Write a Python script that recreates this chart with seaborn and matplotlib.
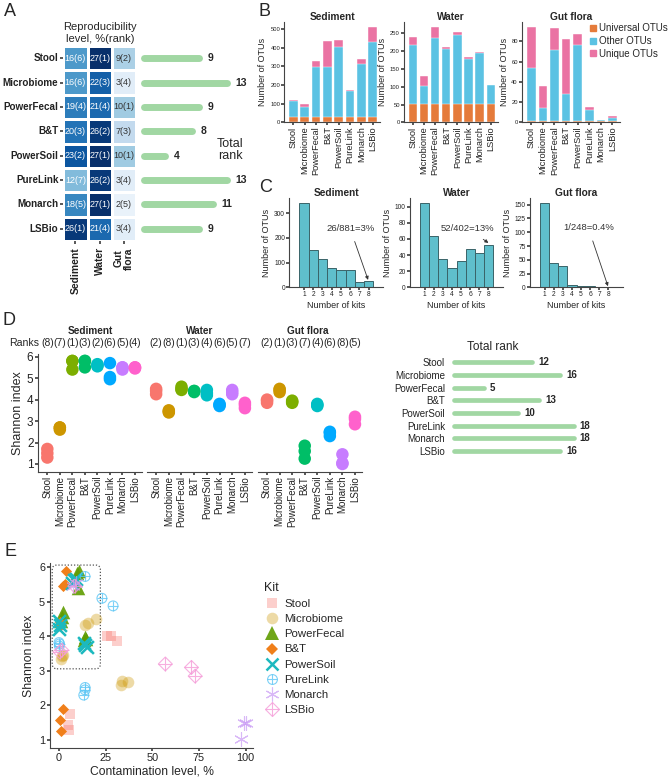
import numpy as np
import pandas as pd
import matplotlib
matplotlib.use("Agg")
import matplotlib.pyplot as plt
import matplotlib.transforms as mtransforms
from matplotlib.lines import Line2D
from matplotlib.patches import FancyBboxPatch
from matplotlib.legend_handler import HandlerTuple
import seaborn as sns

W, H = 669, 781

kits = ["Stool", "Microbiome", "PowerFecal", "B&T", "PowerSoil", "PureLink", "Monarch", "LSBio"]

# --- A: reproducibility level (%) and rank ---
repro_sediment = [16, 16, 19, 20, 23, 12, 18, 26]
repro_water = [27, 22, 21, 26, 27, 26, 27, 21]
repro_gut = [9, 3, 10, 7, 10, 3, 2, 3]
rank_sediment = [6, 6, 4, 3, 2, 7, 5, 1]
rank_water = [1, 3, 4, 2, 1, 2, 1, 4]
rank_gut = [2, 4, 1, 3, 1, 4, 5, 4]
total_rank_a = [9, 13, 9, 8, 4, 13, 11, 9]

# --- B: OTU counts per kit ---
universal_sediment = [26, 26, 26, 26, 26, 26, 26, 26]
other_sediment = [87, 56, 272, 270, 377, 140, 290, 406]
unique_sediment = [5, 14, 32, 139, 40, 9, 24, 80]
universal_water = [52, 52, 52, 52, 52, 52, 52, 52]
other_water = [165, 50, 186, 154, 194, 126, 144, 52]
unique_water = [23, 29, 30, 6, 9, 5, 3, 0]
universal_gut = [1, 1, 1, 1, 1, 1, 1, 1]
other_gut = [53, 13, 70, 27, 75, 11, 1, 3]
unique_gut = [40, 22, 22, 54, 11, 3, 0, 2]

# --- C: number of OTUs shared by n kits ---
n_kits = [1, 2, 3, 4, 5, 6, 7, 8]
hist_sediment = [343, 152, 116, 80, 72, 70, 22, 26]
hist_water = [105, 64, 35, 24, 32, 48, 42, 52]
hist_gut = [154, 45, 38, 5, 2, 2, 1, 1]

# --- D: Shannon index (3 replicates per kit) ---
shannon_sediment = [[1.3, 1.5, 1.7], [2.6, 2.7, 2.7], [5.4, 5.8, 5.8], [5.5, 5.8, 5.8],
                    [5.55, 5.6, 5.65], [4.95, 5.05, 5.7], [5.4, 5.5, 5.5], [5.45, 5.5, 5.5]]
shannon_water = [[4.25, 4.5, 4.4], [3.4, 3.45, 3.5], [4.45, 4.6, 4.5], [4.35, 4.4, 4.4],
                 [4.2, 4.45, 4.3], [3.7, 3.75, 3.8], [4.25, 4.45, 4.35], [3.6, 3.75, 3.85]]
shannon_gut = [[3.85, 3.95, 4.0], [4.35, 4.45, 4.5], [3.85, 3.9, 3.95], [1.25, 1.6, 1.85],
               [3.7, 3.75, 3.8], [2.3, 2.45, 2.5], [1.0, 1.05, 1.45], [2.85, 3.1, 3.2]]
ranks_sediment = [8, 7, 1, 3, 2, 6, 5, 4]
ranks_water = [2, 8, 1, 3, 4, 6, 5, 7]
ranks_gut = [2, 1, 3, 7, 4, 6, 8, 5]
total_rank_d = [12, 16, 5, 13, 10, 18, 18, 16]

# --- E: contamination level vs Shannon index ---
contam_stool = [26, 28, 31, 6, 5, 5.5]
shan_stool = [4.0, 4.0, 3.87, 1.75, 1.43, 1.3]
contam_microbiome = [14, 15.5, 20, 33, 34, 37, 1, 2, 1.5]
shan_microbiome = [4.32, 4.38, 4.5, 2.58, 2.72, 2.68, 3.35, 3.47, 3.42]
contam_powerfecal = [11, 9.5, 10.4, 2.3, 1.5, 1, 14, 13.5, 14.5]
shan_powerfecal = [5.9, 5.82, 5.4, 4.7, 4.55, 4.45, 3.97, 3.88, 3.92]
contam_bt = [4, 2.2, 3, 0.9, 0.4, 2.2, 0.5, 0.3, 0.8]
shan_bt = [5.88, 5.46, 5.5, 1.27, 1.58, 1.9, 4.35, 4.4, 4.3]
contam_powersoil = [7, 8, 9, 0, 0.3, 0.2, 13.5, 14, 15]
shan_powersoil = [5.55, 5.62, 5.65, 4.45, 4.32, 4.22, 3.82, 3.75, 3.7]
contam_purelink = [14, 23, 29, 0, 0.3, 0.2, 14, 14, 13.3]
shan_purelink = [5.73, 5.1, 4.88, 3.82, 3.78, 3.72, 2.52, 2.45, 2.3]
contam_monarch = [99, 100, 97.5, 7.5, 9]
shan_monarch = [1.48, 1.5, 1.02, 5.45, 5.55]
contam_lsbio = [57, 71, 73, 0.5, 1.5, 8.5]
shan_lsbio = [3.2, 3.1, 2.85, 3.55, 3.6, 5.45]

sns.set_theme(style="ticks")
plt.rcParams['font.family'] = ['Liberation Sans', 'DejaVu Sans']
plt.rcParams.update({'axes.edgecolor': '#444444', 'xtick.color': '#444444', 'ytick.color': '#444444',
                     'axes.linewidth': 0.8, 'xtick.major.size': 2.5, 'ytick.major.size': 2.5,
                     'xtick.labelcolor': '#222222', 'ytick.labelcolor': '#222222'})

fig = plt.figure(figsize=(W / 100, H / 100), dpi=100)


def add_ax(x0, y0, x1, y1):
    return fig.add_axes([x0 / W, 1 - y1 / H, (x1 - x0) / W, (y1 - y0) / H])


def ftext(x, y, s, **kw):
    fig.text(x / W, 1 - y / H, s, **kw)


GREEN = "#a1d7a3"

# ---------------- Panel A ----------------
ftext(4, 12, "A", fontsize=13, va="center")
ftext(100, 33, "Reproducibility\nlevel, %(rank)", fontsize=8, ha="center", va="center", linespacing=1.15)

ax_hm = add_ax(63.3, 46.1, 136, 240.9)
hm_df = pd.DataFrame({"Sediment": repro_sediment, "Water": repro_water, "Gut\nflora": repro_gut}, index=kits)
rank_df = pd.DataFrame({"Sediment": rank_sediment, "Water": rank_water, "Gut\nflora": rank_gut}, index=kits)
annot = hm_df.astype(str) + "(" + rank_df.astype(str) + ")"
sns.heatmap(hm_df, annot=annot, fmt="", cmap="Blues", vmin=0, vmax=27, cbar=False,
            linewidths=1, linecolor="white", ax=ax_hm, annot_kws={"fontsize": 6.5})
for t, v in zip(ax_hm.texts, hm_df.values.flatten()):
    t.set_color("white" if v >= 12 else "#333333")
ax_hm.tick_params(axis="y", length=2.5, pad=1, labelsize=7.1, left=True)
ax_hm.tick_params(axis="x", length=2.5, pad=2, labelsize=7.4, bottom=True)
ax_hm.set_yticklabels(kits, rotation=0, fontweight="bold")
ax_hm.set_xticklabels(["Sediment", "Water", "Gut\nflora"], rotation=90, fontweight="bold",
                      va="top", linespacing=1.0)

ax_ta = add_ax(140.9, 46.1, 245, 240.9)
sc_a = 6.86
r_a = 3.4 / sc_a
ya = np.arange(len(kits)) + 0.5
ax_ta.hlines(ya, r_a, np.array(total_rank_a) - r_a, color=GREEN, lw=5, capstyle="round")
for y, v in zip(ya, total_rank_a):
    ax_ta.text(v + 0.75, y, str(v), fontsize=7.5, fontweight="bold", va="center", ha="left")
ax_ta.set_xlim(0, (245 - 140.9) / sc_a)
ax_ta.set_ylim(8, 0)
ax_ta.axis("off")
ftext(230, 150, "Total\nrank", fontsize=9, ha="center", va="center", linespacing=1.1)

# ---------------- Panel B ----------------
ftext(259, 12, "B", fontsize=13, va="center")
C_UNI, C_OTH, C_UNQ = "#e57b3b", "#5bc2e3", "#ea73a3"
b_sets = [("Sediment", universal_sediment, other_sediment, unique_sediment, (284.3, 380), [0, 100, 200, 300, 400, 500]),
          ("Water", universal_water, other_water, unique_water, (404, 498), [0, 50, 100, 150, 200, 250]),
          ("Gut flora", universal_gut, other_gut, unique_gut, (522, 620), [0, 20, 40, 60, 80])]
for title, uni, oth, unq, (x0, x1), yt in b_sets:
    ax = add_ax(x0, 22.3, x1, 122.3)
    df = pd.DataFrame({"kit": kits, "universal": uni, "other": oth, "unique": unq})
    df["mid"] = df["universal"] + df["other"]
    df["top"] = df["mid"] + df["unique"]
    for col, c in (("top", C_UNQ), ("mid", C_OTH), ("universal", C_UNI)):
        sns.barplot(data=df, x="kit", y=col, color=c, saturation=1, width=0.75, ax=ax,
                    edgecolor="white", linewidth=0.3)
    ax.set_xlim(-0.8, 7.65)
    ax.set_yticks(yt)
    ax.tick_params(axis="y", labelsize=4.2, length=2, pad=1)
    ax.tick_params(axis="x", labelsize=6.7, rotation=90, length=2, pad=1)
    ax.set_xlabel("")
    ax.set_ylabel("Number of OTUs", fontsize=6.5, labelpad=2)
    ax.set_title(title, fontsize=7.3, fontweight="bold", pad=1)
    sns.despine(ax=ax)

b_handles = [Line2D([], [], marker="s", ls="", color=c, markersize=5) for c in (C_UNI, C_OTH, C_UNQ)]
fig.legend(b_handles, ["Universal OTUs", "Other OTUs", "Unique OTUs"], loc="upper left",
           bbox_to_anchor=(588 / W, 1 - 23 / H), frameon=False, fontsize=7, handletextpad=0.1,
           labelspacing=0.3, borderaxespad=0, handlelength=1.0, borderpad=0)

# ---------------- Panel C ----------------
ftext(259, 187, "C", fontsize=13, va="center")
c_sets = [("Sediment", hist_sediment, (289.3, 383.3), [0, 100, 200, 300], "26/881=3%", (6.0, 238), (7.95, 30)),
          ("Water", hist_water, (410, 503), [0, 20, 40, 60, 80, 100], "52/402=13%", (5.7, 73), (8.0, 55)),
          ("Gut flora", hist_gut, (530, 623), [0, 25, 50, 75, 100, 125, 150], "1/248=0.4%", (5.8, 108), (7.95, 2))]
for title, counts, (x0, x1), yt, note, txy, axy in c_sets:
    ax = add_ax(x0, 198.3, x1, 287.3)
    sns.histplot(x=n_kits, weights=counts, discrete=True, color="#5fbfcc", edgecolor="#3a6469",
                 linewidth=0.7, alpha=1, ax=ax)
    ax.set_xlim(-0.6, 9.6)
    ax.set_xticks(n_kits)
    ax.set_yticks(yt)
    ax.tick_params(axis="x", labelsize=4.8, length=2, pad=1)
    ax.tick_params(axis="y", labelsize=4.8, length=2, pad=1)
    ax.set_xlabel("Number of kits", fontsize=6.5, labelpad=2)
    ax.set_ylabel("Number of OTUs", fontsize=6.5, labelpad=2)
    ax.set_title(title, fontsize=7.3, fontweight="bold", pad=1)
    ax.annotate(note, xy=axy, xytext=txy, fontsize=6.8, ha="center", va="center", color="#333333",
                arrowprops=dict(arrowstyle="-|>", lw=0.6, color="#333333", mutation_scale=5,
                                shrinkA=4, shrinkB=0))
    sns.despine(ax=ax)

# ---------------- Panel D ----------------
ftext(3, 320, "D", fontsize=13, va="center")
D_COLORS = ["#F8766D", "#CD9600", "#7CAE00", "#00BE67", "#00BFC4", "#00A9FF", "#C77CFF", "#FF61CC"]
d_sets = [("Sediment", shannon_sediment, ranks_sediment, (38.3, 142)),
          ("Water", shannon_water, ranks_water, (147, 252)),
          ("Gut flora", shannon_gut, ranks_gut, (258, 362))]
d_title_x = [90, 200, 308]
ftext(9, 343, "Ranks", fontsize=7.6, ha="left", va="center")
for i, (title, shan, ranks, (x0, x1)) in enumerate(d_sets):
    ax = add_ax(x0, 354.3, x1, 471.7)
    rows = [(k, v) for k, reps in zip(kits, shan) for v in reps]
    df = pd.DataFrame(rows, columns=["kit", "shannon"])
    sns.stripplot(data=df, x="kit", y="shannon", hue="kit", palette=D_COLORS, order=kits,
                  jitter=False, size=9, linewidth=0, ax=ax, legend=False)
    ax.set_xlim(-0.72, 7.56)
    ax.set_ylim(0.64, 6.11)
    ax.tick_params(axis="x", labelsize=7, rotation=90, length=2, pad=1)
    ax.set_xlabel("")
    trans = mtransforms.blended_transform_factory(ax.transData, ax.transAxes)
    for j, r in enumerate(ranks):
        ax.text(j, 1 + (354.3 - 343) / 117.4, f"({r})", transform=trans, fontsize=7.4,
                ha="center", va="center")
    ftext(d_title_x[i], 331, title, fontsize=7.2, fontweight="bold", ha="center", va="center")
    if i == 0:
        ax.set_yticks([1, 2, 3, 4, 5, 6])
        ax.tick_params(axis="y", labelsize=8.5, length=2.5, pad=1)
        ax.set_ylabel("Shannon index", fontsize=9, labelpad=2)
        sns.despine(ax=ax)
    else:
        ax.set_yticks([])
        ax.set_ylabel("")
        sns.despine(ax=ax, left=True)

ftext(493, 347, "Total rank", fontsize=8.6, ha="center", va="center")
sc_d = 6.92
r_d = 2.3 / sc_d
x0_d = 451.4
ax_td = add_ax(x0_d, 356, 640, 457.3)
yd = np.arange(len(kits))
ax_td.hlines(yd, r_d, np.array(total_rank_d) - r_d, color=GREEN, lw=3.4, capstyle="round")
for y, v in zip(yd, total_rank_d):
    ax_td.text(v + 0.55, y, str(v), fontsize=7, fontweight="bold", va="center", ha="left")
ax_td.set_xlim(0, (640 - x0_d) / sc_d)
ax_td.set_ylim(7.5, -0.5)
ax_td.set_yticks(yd)
ax_td.set_yticklabels(kits, fontsize=7)
ax_td.tick_params(axis="y", length=0, pad=4.5)
ax_td.set_xticks([])
sns.despine(ax=ax_td, left=True, bottom=True)

# ---------------- Panel E ----------------
ftext(4, 552, "E", fontsize=13, va="center")
ax_e = add_ax(50, 563, 253, 748)
box = FancyBboxPatch((-3.6, 3.06), 25.8, 3.0, boxstyle="round,pad=0,rounding_size=2.5",
                     mutation_aspect=1.86 / 34.6, fill=False, ls=(0, (1, 1.5)), lw=0.9, ec="#555555")
ax_e.add_patch(box)

e_layers = [
    ("Stool", contam_stool, shan_stool, [("s", "#F8766D", "#F8766D", 55, 0.35, 0)]),
    ("Microbiome", contam_microbiome, shan_microbiome, [("o", "#CD9600", "#CD9600", 70, 0.35, 0)]),
    ("PowerFecal", contam_powerfecal, shan_powerfecal, [("^", "#5f9c00", "#5f9c00", 95, 0.9, 0)]),
    ("B&T", contam_bt, shan_bt, [("D", "#f07f1a", "#f07f1a", 32, 1.0, 0)]),
    ("PowerSoil", contam_powersoil, shan_powersoil, [("x", "#1cb9bf", "#1cb9bf", 85, 1.0, 1.8)]),
    ("PureLink", contam_purelink, shan_purelink, [("o", "none", "#5cc6f5", 50, 0.8, 0.8),
                                                  ("+", "#5cc6f5", "#5cc6f5", 50, 0.8, 0.8)]),
    ("Monarch", contam_monarch, shan_monarch, [((6, 2, 0), "#c99af5", "#c99af5", 100, 0.7, 0.8)]),
    ("LSBio", contam_lsbio, shan_lsbio, [("D", "none", "#f59bd8", 50, 0.8, 0.8),
                                         ("+", "#f59bd8", "#f59bd8", 90, 0.8, 0.8)]),
]
e_handles = []
for name, xs, ys, layers in e_layers:
    parts = []
    for m, fc, ec, s, a, lw in layers:
        sns.scatterplot(x=xs, y=ys, marker=m, s=s, facecolor=fc, edgecolor=ec, alpha=a,
                        linewidth=lw, ax=ax_e, legend=False)
        parts.append(Line2D([], [], ls="", marker=m, markersize=np.sqrt(s),
                            markerfacecolor=fc, markeredgecolor=ec, alpha=a,
                            markeredgewidth=lw if lw else 0.0))
    e_handles.append(tuple(parts) if len(parts) > 1 else parts[0])

ax_e.set_xlim(-4.8, 104)
ax_e.set_ylim(0.77, 6.12)
ax_e.set_xticks([0, 25, 50, 75, 100])
ax_e.set_yticks([1, 2, 3, 4, 5, 6])
ax_e.tick_params(labelsize=7.8, length=2.5, pad=1)
ax_e.set_xlabel("Contamination level, %", fontsize=8.7, labelpad=2)
ax_e.set_ylabel("Shannon index", fontsize=8.8, labelpad=3)
sns.despine(ax=ax_e)

fig.legend(e_handles, kits, title="Kit", loc="upper left", bbox_to_anchor=(264 / W, 1 - 582 / H),
           frameon=False, fontsize=8.2, title_fontsize=9, labelspacing=0.45, handletextpad=0.4,
           borderaxespad=0, borderpad=0, alignment="left", handlelength=1.4,
           handler_map={tuple: HandlerTuple(ndivide=1, pad=0)})

fig.savefig("out.png", dpi=100)
